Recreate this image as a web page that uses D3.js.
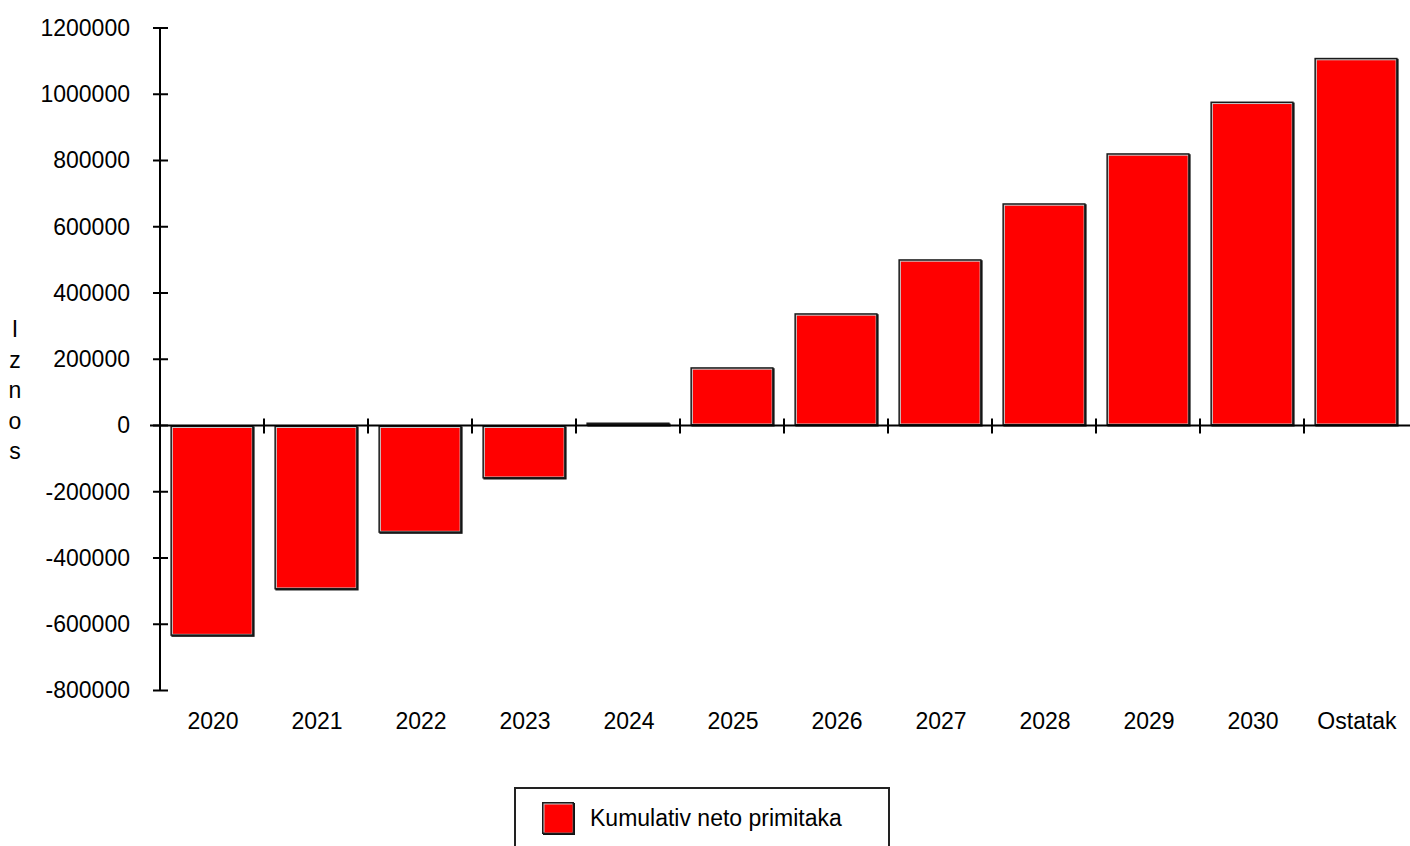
<!DOCTYPE html>
<html>
<head>
<meta charset="utf-8">
<script src="https://cdn.jsdelivr.net/npm/d3@7"></script>
<style>
  html, body { margin: 0; padding: 0; background: #fff; }
  svg { display: block; font-family: "Liberation Sans", Arial, sans-serif; }
</style>
</head>
<body>
<svg id="chart" width="1410" height="846"></svg>
<script>
const categories = ["2020","2021","2022","2023","2024","2025","2026","2027","2028","2029","2030","Ostatak"];
const values = [-635000,-495000,-324000,-160000,5000,176000,339000,502000,671000,822000,978000,1110000];
const yTicks = [-800000,-600000,-400000,-200000,0,200000,400000,600000,800000,1000000,1200000];
const seriesName = "Kumulativ neto primitaka";
const yTitle = "Iznos";

const svg = d3.select("#chart");
const x = d3.scaleBand().domain(categories).range([160, 1408]).paddingInner(0.2).paddingOuter(0.1);
const y = d3.scaleLinear().domain([-800000, 1200000]).range([690.5, 28]);
const y0 = y(0);

// bars
const g = svg.append("g");
categories.forEach((c, i) => {
  const v = values[i];
  const x0 = x(c), w = x.bandwidth();
  let top = Math.min(y(v), y0), bot = Math.max(y(v), y0);
  let h = bot - top;
  if (h < 3) { top = y0 - 3; h = 3; }
  g.append("rect").attr("x", x0 + 1).attr("y", top + 1).attr("width", w).attr("height", h).attr("fill", "#111");
  g.append("rect").attr("x", x0).attr("y", top).attr("width", w).attr("height", h).attr("fill", "#1a1a1a");
  if (h > 5) {
    g.append("rect").attr("x", x0 + 1.5).attr("y", top + 1.5).attr("width", w - 3).attr("height", h - 3).attr("fill", "#c8c8c8");
    g.append("rect").attr("x", x0 + 2.5).attr("y", top + 2.5).attr("width", w - 4.5).attr("height", h - 4.5).attr("fill", "#ff0000");
  }
});

// y axis
const yAxis = d3.axisLeft(y).tickValues(yTicks).tickFormat(d => String(d)).tickSize(0).tickPadding(30);
const ya = svg.append("g").attr("transform", "translate(160,0)").call(yAxis);
ya.select(".domain").remove();
ya.selectAll("text").attr("font-size", 23).attr("fill", "#000").attr("font-family", "Liberation Sans, Arial, sans-serif");
svg.append("line").attr("x1", 160).attr("x2", 160).attr("y1", y(1200000)).attr("y2", y(-800000)).attr("stroke", "#000").attr("stroke-width", 2);
yTicks.forEach(t => {
  svg.append("line").attr("x1", 153).attr("x2", 168).attr("y1", y(t)).attr("y2", y(t)).attr("stroke", "#000").attr("stroke-width", 2);
});

// x axis line at zero
svg.append("line").attr("x1", 150).attr("x2", 1410).attr("y1", y0).attr("y2", y0).attr("stroke", "#000").attr("stroke-width", 2);
categories.slice(1).forEach(c => {
  const xx = x(c) - x.step() * x.paddingInner() / 2;
  svg.append("line").attr("x1", xx).attr("x2", xx).attr("y1", y0 - 7).attr("y2", y0 + 8).attr("stroke", "#000").attr("stroke-width", 2);
});
// x labels
svg.append("g").selectAll("text").data(categories).join("text")
  .attr("x", d => x(d) + x.bandwidth() / 2 + 1)
  .attr("y", 729)
  .attr("text-anchor", "middle")
  .attr("font-size", 23)
  .attr("fill", "#000")
  .text(d => d);

// y title stacked letters
svg.append("g").selectAll("text").data(yTitle.split("")).join("text")
  .attr("x", 15)
  .attr("y", (d, i) => 337 + i * 30.5)
  .attr("text-anchor", "middle")
  .attr("font-size", 23)
  .attr("fill", "#000")
  .text(d => d);

// legend
svg.append("rect").attr("x", 515).attr("y", 788).attr("width", 374).attr("height", 70)
  .attr("fill", "#fff").attr("stroke", "#222").attr("stroke-width", 2);
svg.append("rect").attr("x", 543).attr("y", 803).attr("width", 32).attr("height", 32).attr("fill", "#111");
svg.append("rect").attr("x", 542).attr("y", 802).attr("width", 32).attr("height", 32).attr("fill", "#1a1a1a");
svg.append("rect").attr("x", 543.5).attr("y", 803.5).attr("width", 29).attr("height", 29).attr("fill", "#c8c8c8");
svg.append("rect").attr("x", 544.5).attr("y", 804.5).attr("width", 28).attr("height", 28).attr("fill", "#ff0000");
svg.append("text").attr("x", 590).attr("y", 826).attr("font-size", 23).attr("fill", "#000").text(seriesName);
</script>
</body>
</html>
